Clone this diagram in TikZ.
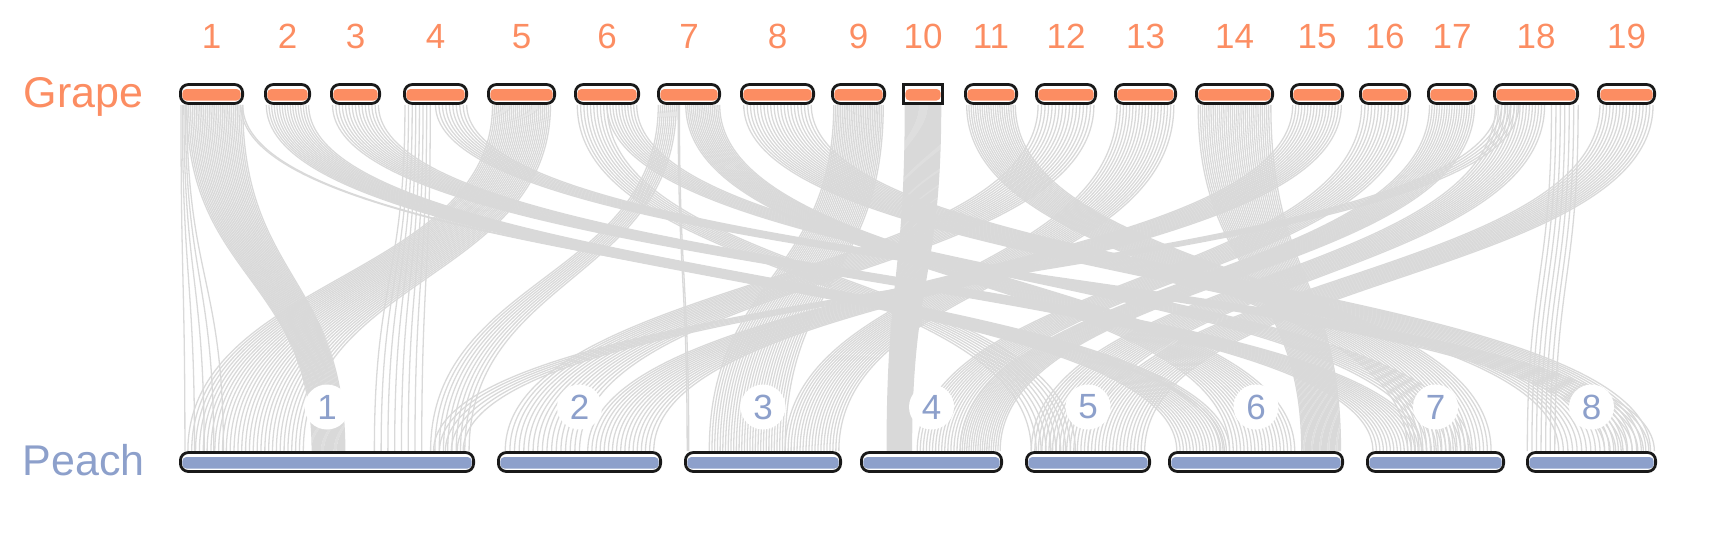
\documentclass[tikz,border=0pt]{standalone}
\usepackage{fontspec}
\setmainfont{Liberation Sans}
\usepackage{xcolor}
\usetikzlibrary{calc}
\definecolor{grapeC}{HTML}{FC8D62}
\definecolor{peachC}{HTML}{8DA0CB}
\definecolor{linkC}{HTML}{D9D9D9}
\pgfdeclarelayer{back}
\pgfsetlayers{back,main}

% synteny block: grape chr, from, to, peach chr, from, to, steps
\newcommand\synlink[7]{%
  \foreach \k in {0,...,#7}{%
    \pgfmathsetmacro\fa{#2+(#3-#2)*\k/#7}%
    \pgfmathsetmacro\fb{#5+(#6-#5)*\k/#7}%
    \draw[link] ($(g#1.south west)!\fa!(g#1.south east)$)
      .. controls +(0,174) and +(0,-174) .. ($(p#4.north west)!\fb!(p#4.north east)$);
  }%
}

\begin{document}
\begin{tikzpicture}[x=1pt, y=-1pt,
  link/.style={draw=linkC, line width=1.3pt},
  chrbar/.style={draw=black!90, line width=2.8pt, fill=white, rounded corners=8pt,
    minimum height=19pt, inner sep=0pt},
  gbar/.style={chrbar, path picture={\fill[grapeC, rounded corners=4pt]
    ([xshift=2pt,yshift=3pt]path picture bounding box.south west) rectangle
    ([xshift=-2pt,yshift=-4.5pt]path picture bounding box.north east);}},
  pbar/.style={chrbar, path picture={\fill[peachC, rounded corners=4pt]
    ([xshift=2pt,yshift=3pt]path picture bounding box.south west) rectangle
    ([xshift=-2pt,yshift=-4.5pt]path picture bounding box.north east);}},
  glab/.style={grapeC, font=\fontsize{35}{40}\selectfont, anchor=base},
  plab/.style={peachC, font=\fontsize{35}{40}\selectfont, circle, fill=white,
    minimum size=45pt, inner sep=0pt},
  sp/.style={font=\fontsize{43}{48}\selectfont, anchor=base}]
\useasboundingbox (0,0) rectangle (1725,533);

% ---- species names ----
\node[sp, grapeC] (grape) at (83.5,107) {Grape};
\node[sp, peachC] (peach) at (83.5,475) {Peach};

% ---- grape chromosomes ----
\foreach \n/\c/\w in {1/211.5/65, 2/287.5/47, 3/355.5/51, 4/435.5/65, 5/521.5/69,
    6/607/66, 7/689/64, 8/777.5/75, 9/858.5/55, 11/991/54, 12/1066/62,
    13/1145.5/63, 14/1234.5/79, 15/1317/54, 16/1385/52, 17/1452/50,
    18/1536/86, 19/1626.5/59}
  \node[gbar, minimum width={\w pt-2.8pt}] (g\n) at (\c,94) {};
\node[gbar, sharp corners, minimum width=39.2pt] (g10) at (923,94) {};
\foreach \n in {1,...,19}
  \node[glab] at (g\n.center |- 0,48) {\n};

% ---- peach chromosomes ----
\foreach \n/\c/\w in {1/327/296, 2/579.5/165, 3/763/158, 4/931.5/143,
    5/1088/126, 6/1256/176, 7/1435.5/139, 8/1591.5/131}
  \node[pbar, minimum width={\w pt-2.8pt}] (p\n) at (\c,462) {};

% ---- links ----
\begin{pgfonlayer}{back}
% near-vertical blocks
\synlink{1}{0.12}{0.98}{1}{0.45}{0.56}{30}
\synlink{1}{0.03}{0.12}{1}{0.02}{0.15}{4}
\synlink{5}{0.08}{0.92}{1}{0.03}{0.42}{30}
\synlink{4}{0.03}{0.42}{1}{0.66}{0.82}{7}
\synlink{7}{0.33}{0.35}{3}{0.02}{0.03}{1}
\synlink{9}{0.05}{0.95}{3}{0.16}{0.64}{28}
\synlink{10}{0.08}{0.92}{4}{0.19}{0.36}{36}
\synlink{14}{0.04}{0.96}{6}{0.76}{0.98}{34}
\synlink{18}{0.68}{0.99}{8}{0.01}{0.22}{6}
% right to left
\synlink{7}{0.02}{0.3}{1}{0.85}{0.98}{9}
\synlink{12}{0.05}{0.95}{2}{0.05}{0.5}{16}
\synlink{13}{0.05}{0.95}{3}{0.64}{0.98}{18}
\synlink{15}{0.05}{0.95}{2}{0.55}{0.95}{16}
\synlink{16}{0.05}{0.95}{4}{0.4}{0.7}{14}
\synlink{17}{0.05}{0.95}{4}{0.7}{0.98}{18}
\synlink{18}{0.03}{0.6}{5}{0.05}{0.5}{16}
\synlink{19}{0.05}{0.95}{5}{0.5}{0.95}{16}
\synlink{18}{0.05}{0.3}{1}{0.86}{0.96}{5}
% left to right
\synlink{2}{0.05}{0.95}{6}{0.05}{0.35}{16}
\synlink{3}{0.05}{0.95}{7}{0.05}{0.4}{14}
\synlink{4}{0.5}{0.98}{8}{0.6}{0.98}{9}
\synlink{6}{0.05}{0.5}{5}{0.05}{0.4}{9}
\synlink{6}{0.5}{0.95}{7}{0.4}{0.75}{10}
\synlink{7}{0.45}{0.98}{6}{0.35}{0.72}{18}
\synlink{8}{0.05}{0.95}{8}{0.25}{0.95}{20}
\synlink{11}{0.05}{0.95}{7}{0.3}{0.9}{22}
\synlink{1}{0.95}{0.98}{6}{0.3}{0.32}{1}
\end{pgfonlayer}

% ---- peach labels ----
\foreach \n in {1,...,8}
  \node[plab] at ($(p\n)+(0,-55)$) {\n};
\end{tikzpicture}
\end{document}
